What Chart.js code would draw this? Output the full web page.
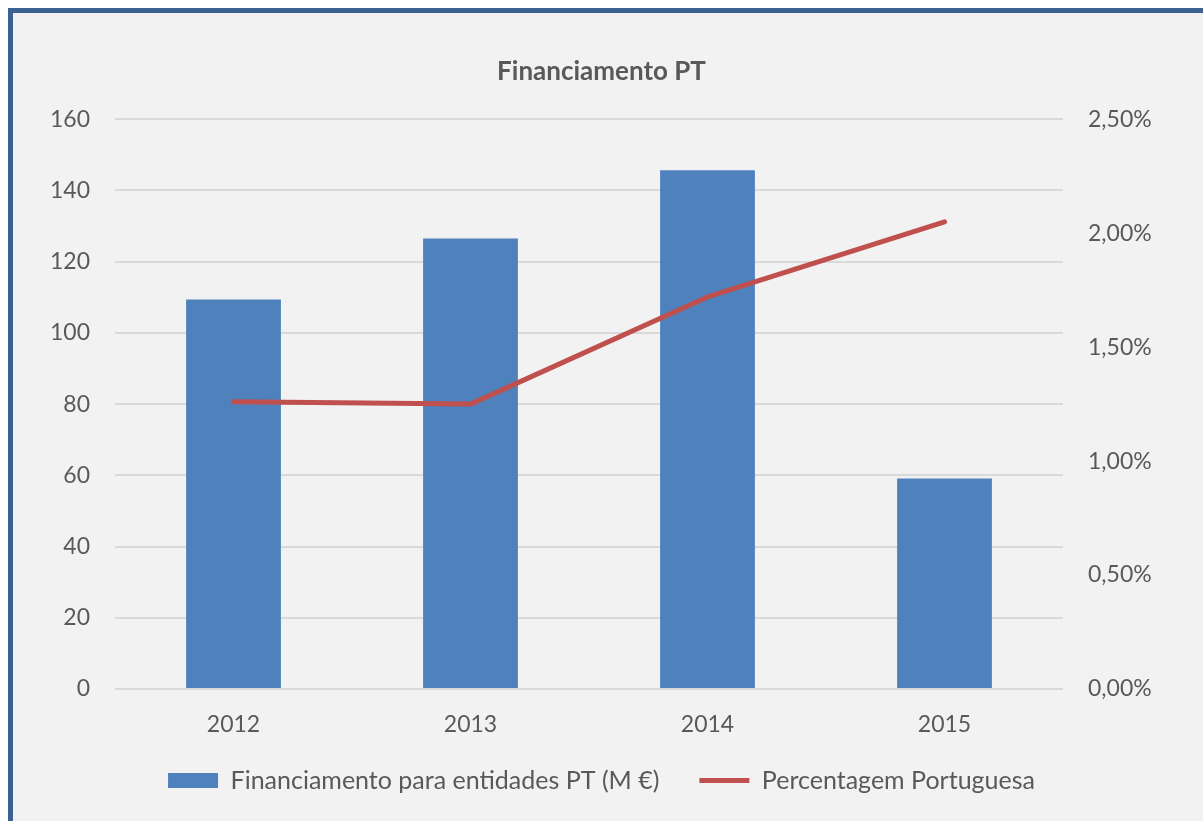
<!DOCTYPE html>
<html>
<head>
<meta charset="utf-8">
<script src="https://cdn.jsdelivr.net/npm/chart.js@4.4.1/dist/chart.umd.min.js"></script>
<style>
  html, body { margin: 0; padding: 0; background: #ffffff; overflow: hidden; width: 1203px; height: 821px; }
  #frame { position: absolute; left: 8px; top: 8px; width: 1400px; height: 1000px; background: #F2F2F2;
           border-left: 5px solid #3C6291; border-top: 5px solid #3C6291; }
  #c { position: absolute; left: 0; top: 0; }
</style>
</head>
<body>
<div id="frame"></div>
<canvas id="c" width="1203" height="821"></canvas>
<script>
const years = ['2012', '2013', '2014', '2015'];
const funding = [109.4, 126.5, 145.7, 59.1];
const sharePct = [1.26, 1.25, 1.72, 2.05];
const leftTicks = { min: 0, max: 160, step: 20 };
const rightTicks = { min: 0, max: 2.5, step: 0.5 };
const titleText = 'Financiamento PT';
const seriesNames = ['Financiamento para entidades PT (M €)', 'Percentagem Portuguesa'];

const FONT = 'Lato, "Open Sans", sans-serif';
const GREY = '#595959';

new Chart(document.getElementById('c'), {
  data: {
    labels: years,
    datasets: [
      {
        type: 'bar', label: seriesNames[0], data: funding, yAxisID: 'y',
        backgroundColor: '#4F81BD', borderWidth: 0, order: 1,
        barPercentage: 0.4, categoryPercentage: 1.0, pointStyle: 'rect'
      },
      {
        type: 'line', label: seriesNames[1], data: sharePct, yAxisID: 'y2',
        borderColor: '#C0504D', backgroundColor: '#C0504D', borderWidth: 5,
        borderCapStyle: 'round', borderJoinStyle: 'round',
        pointRadius: 0, pointStyle: 'line', tension: 0, order: 0
      }
    ]
  },
  options: {
    responsive: false, animation: false, devicePixelRatio: 1,
    layout: { padding: { left: 0, right: 0, top: 0, bottom: 18 } },
    plugins: {
      tooltip: { enabled: false },
      title: {
        display: true, text: titleText, color: GREY,
        font: { family: FONT, size: 26, weight: 'bold' },
        padding: { top: 56, bottom: 32 }
      },
      legend: {
        position: 'bottom',
        labels: {
          usePointStyle: true, pointStyleWidth: 50, boxHeight: 15,
          color: GREY, font: { family: FONT, size: 25 }, padding: 40,
          sort: (a, b) => a.datasetIndex - b.datasetIndex
        }
      }
    },
    scales: {
      x: {
        grid: { display: false }, border: { display: false },
        ticks: { color: GREY, font: { family: FONT, size: 23 }, padding: 14 },
        afterFit: (s) => { s._computeLabelArea = () => undefined; s.height = 39; }
      },
      y: {
        position: 'left', min: leftTicks.min, max: leftTicks.max,
        ticks: { stepSize: leftTicks.step, color: GREY, font: { family: FONT, size: 23 }, padding: 25 },
        grid: { color: '#D9D9D9', lineWidth: 2, drawTicks: false }, border: { display: false },
        afterFit: (s) => { s.width = 115; }
      },
      y2: {
        position: 'right', min: rightTicks.min, max: rightTicks.max,
        ticks: {
          stepSize: rightTicks.step, color: GREY, font: { family: FONT, size: 23 }, padding: 25,
          callback: (v) => v.toFixed(2).replace('.', ',') + '%'
        },
        grid: { display: false, drawTicks: false }, border: { display: false },
        afterFit: (s) => { s.width = 140; }
      }
    }
  }
});
</script>
</body>
</html>
